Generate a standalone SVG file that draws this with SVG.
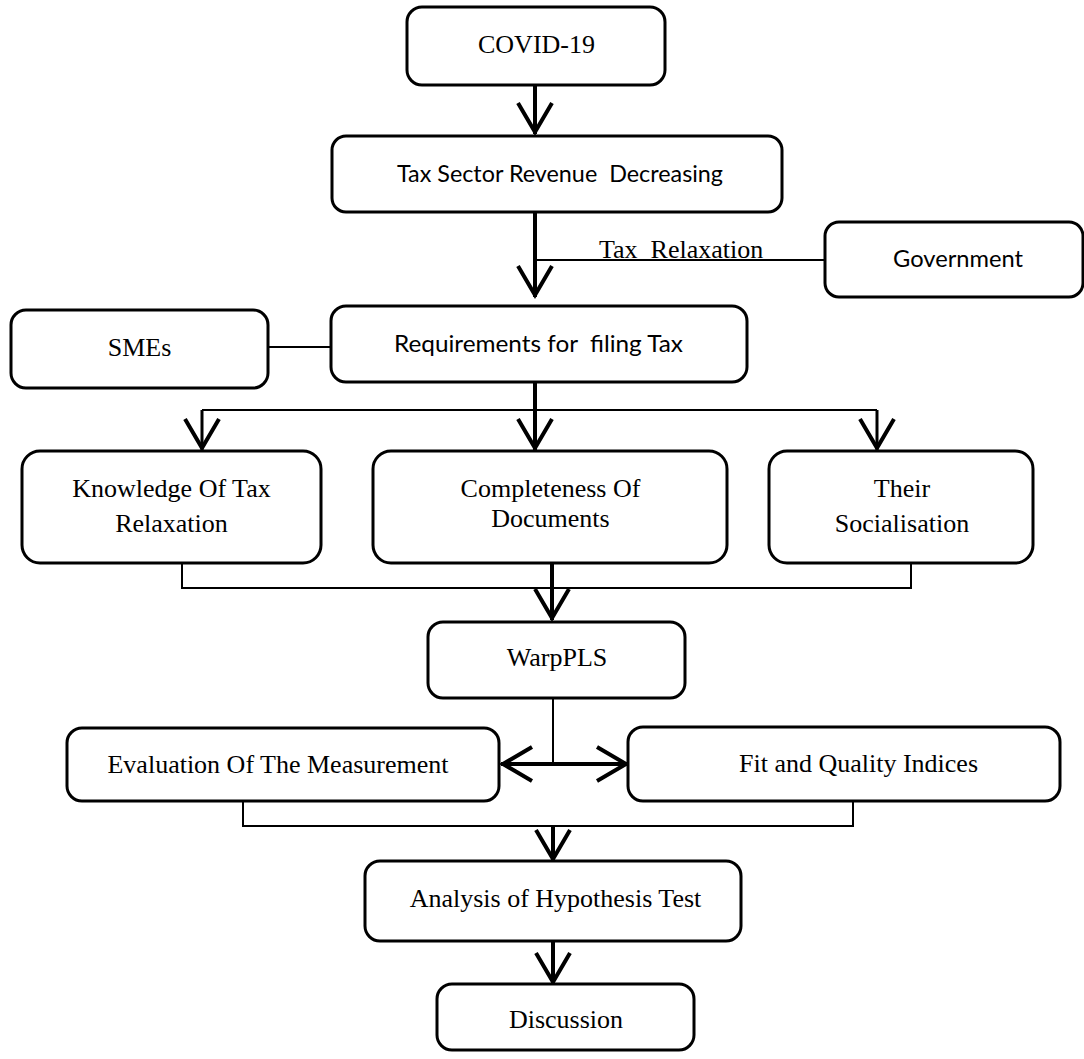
<svg xmlns="http://www.w3.org/2000/svg" width="1084" height="1059" viewBox="0 0 1084 1059">
<style>
.box{fill:#fff;stroke:#000;stroke-width:3}
.serif{font-family:"Liberation Serif","Times New Roman",serif;font-size:26px;fill:#000;text-anchor:middle}
.sans{font-family:Lato,"Liberation Sans",sans-serif;font-size:23px;fill:#000;text-anchor:middle}
.thin{fill:none;stroke:#000;stroke-width:2}
.thick{fill:none;stroke:#000;stroke-width:4}
.mid{fill:none;stroke:#000;stroke-width:3}
</style>
<defs>
<marker id="ah" markerUnits="userSpaceOnUse" markerWidth="44" markerHeight="44" viewBox="-40 -22 44 44" refX="0" refY="0" orient="auto-start-reverse" overflow="visible">
<path d="M-31,-17 L-2,0 L-31,17" fill="none" stroke="#000" stroke-width="4"/>
</marker>
</defs>
<rect width="1084" height="1059" fill="#fff"/>
<g id="connectors">
<line class="thick" x1="535" y1="85" x2="535" y2="134" marker-end="url(#ah)"/>
<line class="thick" x1="535" y1="212" x2="535" y2="297" marker-end="url(#ah)"/>
<line class="thin" x1="825" y1="260" x2="535" y2="260"/>
<line class="thin" x1="268" y1="347" x2="331" y2="347"/>
<line class="thick" x1="535" y1="382" x2="535" y2="450" marker-end="url(#ah)"/>
<line class="thin" x1="202" y1="410" x2="877" y2="410"/>
<line class="mid" x1="202" y1="410" x2="202" y2="450" marker-end="url(#ah)"/>
<line class="mid" x1="877" y1="410" x2="877" y2="450" marker-end="url(#ah)"/>
<polyline class="thin" points="182,563 182,588 911,588 911,563"/>
<line class="thick" x1="552" y1="563" x2="552" y2="620" marker-end="url(#ah)"/>
<line class="thin" x1="553" y1="698" x2="553" y2="764"/>
<line class="thick" x1="501" y1="764" x2="628" y2="764" marker-start="url(#ah)" marker-end="url(#ah)"/>
<polyline class="thin" points="243,801 243,826 853,826 853,801"/>
<line class="thick" x1="553" y1="826" x2="553" y2="861" marker-end="url(#ah)"/>
<line class="thick" x1="553" y1="941" x2="553" y2="984" marker-end="url(#ah)"/>
<text class="serif" x="599" y="258" style="text-anchor:start" xml:space="preserve">Tax  Relaxation</text>
</g>
<g id="covid">
<rect class="box" x="407" y="7" width="258" height="78" rx="15"/>
<text class="serif" x="536.5" y="53">COVID-19</text>
</g>
<g id="tax-sector">
<rect class="box" x="332" y="136" width="450" height="76" rx="14"/>
<text class="sans" x="560" y="182" textLength="326" lengthAdjust="spacingAndGlyphs" xml:space="preserve">Tax Sector Revenue  Decreasing</text>
</g>
<g id="government">
<rect class="box" x="825" y="222" width="258" height="75" rx="14"/>
<text class="sans" x="958" y="267" textLength="130" lengthAdjust="spacingAndGlyphs">Government</text>
</g>
<g id="smes">
<rect class="box" x="11" y="310" width="257" height="78" rx="15"/>
<text class="serif" x="139.5" y="356">SMEs</text>
</g>
<g id="requirements">
<rect class="box" x="331" y="306" width="416" height="76" rx="15"/>
<text class="sans" x="538.5" y="352" textLength="289" lengthAdjust="spacingAndGlyphs" xml:space="preserve">Requirements for  filing Tax</text>
</g>
<g id="knowledge">
<rect class="box" x="22" y="451" width="299" height="112" rx="18"/>
<text class="serif" x="171.5" y="497">Knowledge Of Tax</text>
<text class="serif" x="171.5" y="532">Relaxation</text>
</g>
<g id="completeness">
<rect class="box" x="373" y="451" width="354" height="112" rx="18"/>
<text class="serif" x="550.5" y="497">Completeness Of</text>
<text class="serif" x="550.5" y="527">Documents</text>
</g>
<g id="socialisation">
<rect class="box" x="769" y="451" width="264" height="112" rx="18"/>
<text class="serif" x="902" y="497">Their</text>
<text class="serif" x="902" y="532">Socialisation</text>
</g>
<g id="warppls">
<rect class="box" x="428" y="622" width="257" height="76" rx="15"/>
<text class="serif" x="557" y="666">WarpPLS</text>
</g>
<g id="evaluation">
<rect class="box" x="67" y="728" width="432" height="73" rx="15"/>
<text class="serif" x="278" y="773">Evaluation Of The Measurement</text>
</g>
<g id="fit">
<rect class="box" x="628" y="727" width="432" height="74" rx="15"/>
<text class="serif" x="858.5" y="772">Fit and Quality Indices</text>
</g>
<g id="analysis">
<rect class="box" x="365" y="861" width="376" height="80" rx="15"/>
<text class="serif" x="555.5" y="907">Analysis of Hypothesis Test</text>
</g>
<g id="discussion">
<rect class="box" x="437" y="984" width="257" height="66" rx="15"/>
<text class="serif" x="566" y="1028">Discussion</text>
</g>
</svg>
